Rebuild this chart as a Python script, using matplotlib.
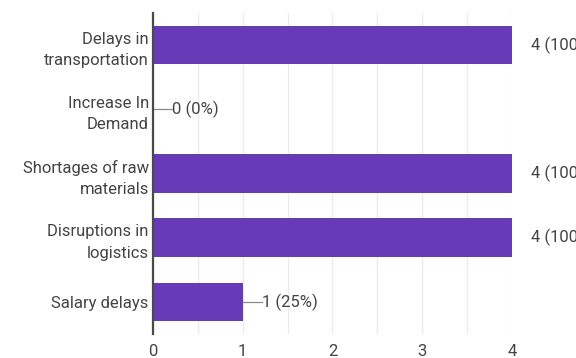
import matplotlib.pyplot as plt

categories = ["Delays in\ntransportation", "Increase In\nDemand", "Shortages of raw\nmaterials",
              "Disruptions in\nlogistics", "Salary delays"]
counts = [4, 0, 4, 4, 1]
percents = [100, 0, 100, 100, 25]
xticks = [0, 1, 2, 3, 4]

plt.rcParams['font.family'] = ['Roboto', 'DejaVu Sans']

fig = plt.figure(figsize=(5.76, 3.58), dpi=100)
ax = fig.add_axes([0.2656, 0.067, 0.6233, 0.8967])

ypos = list(range(len(categories)))
ax.barh(ypos, counts, height=0.6, color='#673ab7', zorder=3)

ax.set_ylim(len(categories) - 0.5, -0.5)
ax.set_xlim(0, 4)
ax.set_xticks(xticks)
ax.set_xticks([0.5, 1.5, 2.5, 3.5], minor=True)
ax.grid(True, axis='x', which='both', color='#ebebeb', linewidth=1, zorder=0)
ax.tick_params(axis='x', which='both', length=0, pad=7, labelsize=12, labelcolor='#444444')
ax.tick_params(axis='y', length=0, pad=3)
ax.set_yticks(ypos)
ax.set_yticklabels(categories, fontsize=12, color='#444444', linespacing=1.55, ha='right')

for s in ['top', 'right', 'bottom']:
    ax.spines[s].set_visible(False)
ax.spines['left'].set_color('#4a4a4a')
ax.spines['left'].set_linewidth(1.6)
ax.spines['left'].set_zorder(4)

# value labels with short leader lines
for y, c, p in zip(ypos, counts, percents):
    if c < max(counts):
        ax.plot([c, c + 0.21], [y, y], color='#8a8a8a', linewidth=0.9, clip_on=False, zorder=4)
    ax.text(c + 0.21, y, f"{c} ({p}%)", va='center', ha='left', fontsize=12,
            color='#444444', clip_on=False)

fig.savefig('out.png', dpi=100)
